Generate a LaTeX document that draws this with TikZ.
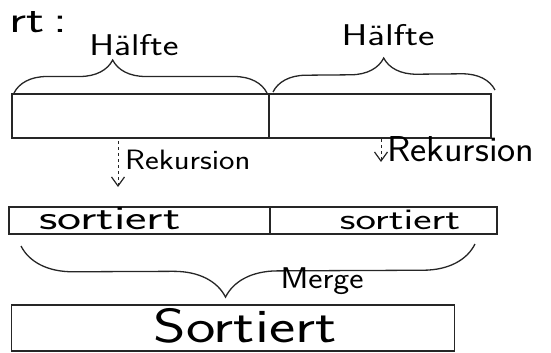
\documentclass[tikz,border=0pt]{standalone}
\usetikzlibrary{decorations.pathreplacing,arrows.meta}
\begin{document}
\begin{tikzpicture}[x=1pt,y=-1pt,
  ink/.style={line width=1.3pt,draw=black!85},
  cell/.style={ink,rectangle,inner sep=0pt,minimum height=#1},
  lbl/.style={inner sep=0pt,font=\sffamily},
  bracebig/.style={ink,decorate,decoration={brace,amplitude=#1}},
  rek/.style={line width=1pt,dashed,draw=black!85,-{Straight Barb[length=9pt,width=13pt,line width=1.2pt]}}
]
\useasboundingbox (0,0) rectangle (551,353);
% top-left remainder of heading
\node[lbl,font=\sffamily\fontsize{38}{42}\selectfont,xscale=1.4] (head) at (38,22) {rt\,:};
% top array
\node[cell=44pt,minimum width=257pt] (topL) at (140.5,116) {};
\node[cell=44pt,minimum width=222pt] (topR) at (380,116) {};
% braces over halves
\coordinate (bL1) at (14,93);
\coordinate (bL2) at (267,93);
\coordinate (bR1) at (273,92);
\coordinate (bR2) at (495,90);
\draw[bracebig=33pt,decoration={aspect=0.39}] (bL1) -- (bL2);
\draw[bracebig=33pt,decoration={aspect=0.5}] (bR1) -- (bR2);
\node[lbl,font=\sffamily\fontsize{30}{34}\selectfont,xscale=1.25,anchor=base] (hL) at (134,56) {Hälfte};
\node[lbl,font=\sffamily\fontsize{30}{34}\selectfont,xscale=1.3,anchor=base] (hR) at (388,46) {Hälfte};
% middle array
\node[cell=27pt,minimum width=261pt] (midL) at (139.5,220.5) {};
\node[cell=27pt,minimum width=227pt] (midR) at (383.5,220.5) {};
\node[lbl,font=\sffamily\fontsize{34}{38}\selectfont,xscale=1.5,anchor=base] (sL) at (110,229) {sortiert};
\node[lbl,font=\sffamily\fontsize{30}{34}\selectfont,xscale=1.45,anchor=base] (sR) at (400,229) {sortiert};
% recursion arrows
\coordinate (aL1) at (118,141);
\coordinate (aL2) at (118,187);
\coordinate (aR1) at (381,139);
\coordinate (aR2) at (381,162);
\draw[rek] (aL1) -- (aL2);
\draw[rek] (aR1) -- (aR2);
\node[lbl,font=\sffamily\fontsize{28}{32}\selectfont,xscale=1.17,anchor=base west] (rL) at (125,169) {Rekursion};
\node[lbl,font=\sffamily\fontsize{36}{40}\selectfont,xscale=1.07,anchor=base west] (rR) at (387,161) {Rekursion};
% merge brace
\coordinate (m1) at (21,246);
\coordinate (m2) at (475,244);
\draw[bracebig=52pt,decoration={mirror,aspect=0.45}] (m1) -- (m2);
\node[lbl,font=\sffamily\fontsize{30}{34}\selectfont,xscale=1.13,anchor=base] (mg) at (322,288) {Merge};
% result array
\node[cell=46pt,minimum width=443pt] (res) at (233,328) {};
\node[lbl,font=\sffamily\fontsize{48}{52}\selectfont,xscale=1.3,anchor=base] (big) at (245,342) {Sortiert};
\end{tikzpicture}
\end{document}
